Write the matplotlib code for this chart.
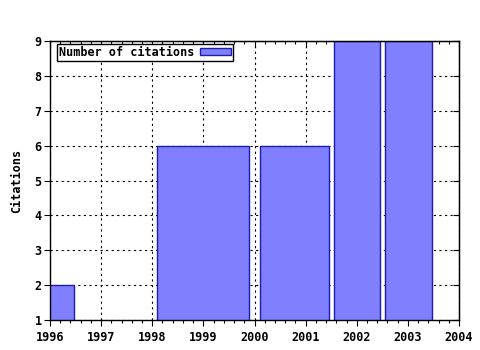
import matplotlib
matplotlib.use("Agg")
import matplotlib.pyplot as plt
from matplotlib.ticker import MultipleLocator

# Data (bar left/right edges in years, citation counts)
bar_left = [1995.55, 1998.10, 2000.11, 2001.56, 2002.56]
bar_right = [1996.46, 1999.90, 2001.46, 2002.46, 2003.47]
citations = [2, 6, 6, 9, 9]
series_label = "Number of citations"
y_label = "Citations"
x_ticks = [1996, 1997, 1998, 1999, 2000, 2001, 2002, 2003, 2004]
y_ticks = [1, 2, 3, 4, 5, 6, 7, 8, 9]

plt.rcParams["font.family"] = "DejaVu Sans Mono"
plt.rcParams["font.weight"] = "bold"

fig = plt.figure(figsize=(4.8, 3.5), dpi=100)
ax = fig.add_axes([50/480, 1 - 320/350, 409/480, 279/350])

widths = [r - l for l, r in zip(bar_left, bar_right)]
ax.bar(bar_left, citations, width=widths, align="edge", bottom=0,
       color="#8080ff", edgecolor="#1c1cb0", linewidth=1.0,
       label=series_label, zorder=3)

ax.set_xlim(1996, 2004)
ax.set_ylim(1, 9)
ax.set_xticks(x_ticks)
ax.set_yticks(y_ticks)
ax.xaxis.set_minor_locator(MultipleLocator(0.2))
ax.set_xticklabels([str(t) for t in x_ticks], fontsize=8.5, fontweight="bold")
ax.set_yticklabels([str(t) for t in y_ticks], fontsize=8.5, fontweight="bold")
ax.tick_params(axis="both", which="major", direction="out", length=4, width=0.8, pad=2)
ax.tick_params(axis="x", which="minor", direction="out", length=2, width=0.8)
ax.tick_params(axis="x", which="major", pad=4)

# mirrored ticks pointing inward on top and right
top = ax.secondary_xaxis("top")
top.set_xticks(x_ticks)
top.xaxis.set_minor_locator(MultipleLocator(0.2))
top.tick_params(axis="x", which="major", direction="in", length=4, width=0.8, labeltop=False)
top.tick_params(axis="x", which="minor", direction="in", length=2, width=0.8)
right = ax.secondary_yaxis("right")
right.set_yticks(y_ticks)
right.tick_params(axis="y", which="major", direction="in", length=4, width=0.8, labelright=False)

ax.grid(True, which="major", color="black", linestyle=(0, (2, 3)), linewidth=0.8, zorder=1)
for s in ax.spines.values():
    s.set_linewidth(1.0)
    s.set_zorder(4)

ax.set_ylabel(y_label, fontsize=8.5, fontweight="bold", labelpad=8)

leg = ax.legend(loc="upper left", bbox_to_anchor=(0.016, 0.99), markerfirst=False,
                frameon=True, fancybox=False, framealpha=1, edgecolor="black",
                prop={"family": "DejaVu Sans Mono", "weight": "bold", "size": 8.5},
                handlelength=2.6, handleheight=0.55, borderpad=0.18,
                handletextpad=0.5, borderaxespad=0)
leg.get_frame().set_linewidth(1.0)
leg.set_zorder(5)

fig.savefig("out.png", dpi=100)
